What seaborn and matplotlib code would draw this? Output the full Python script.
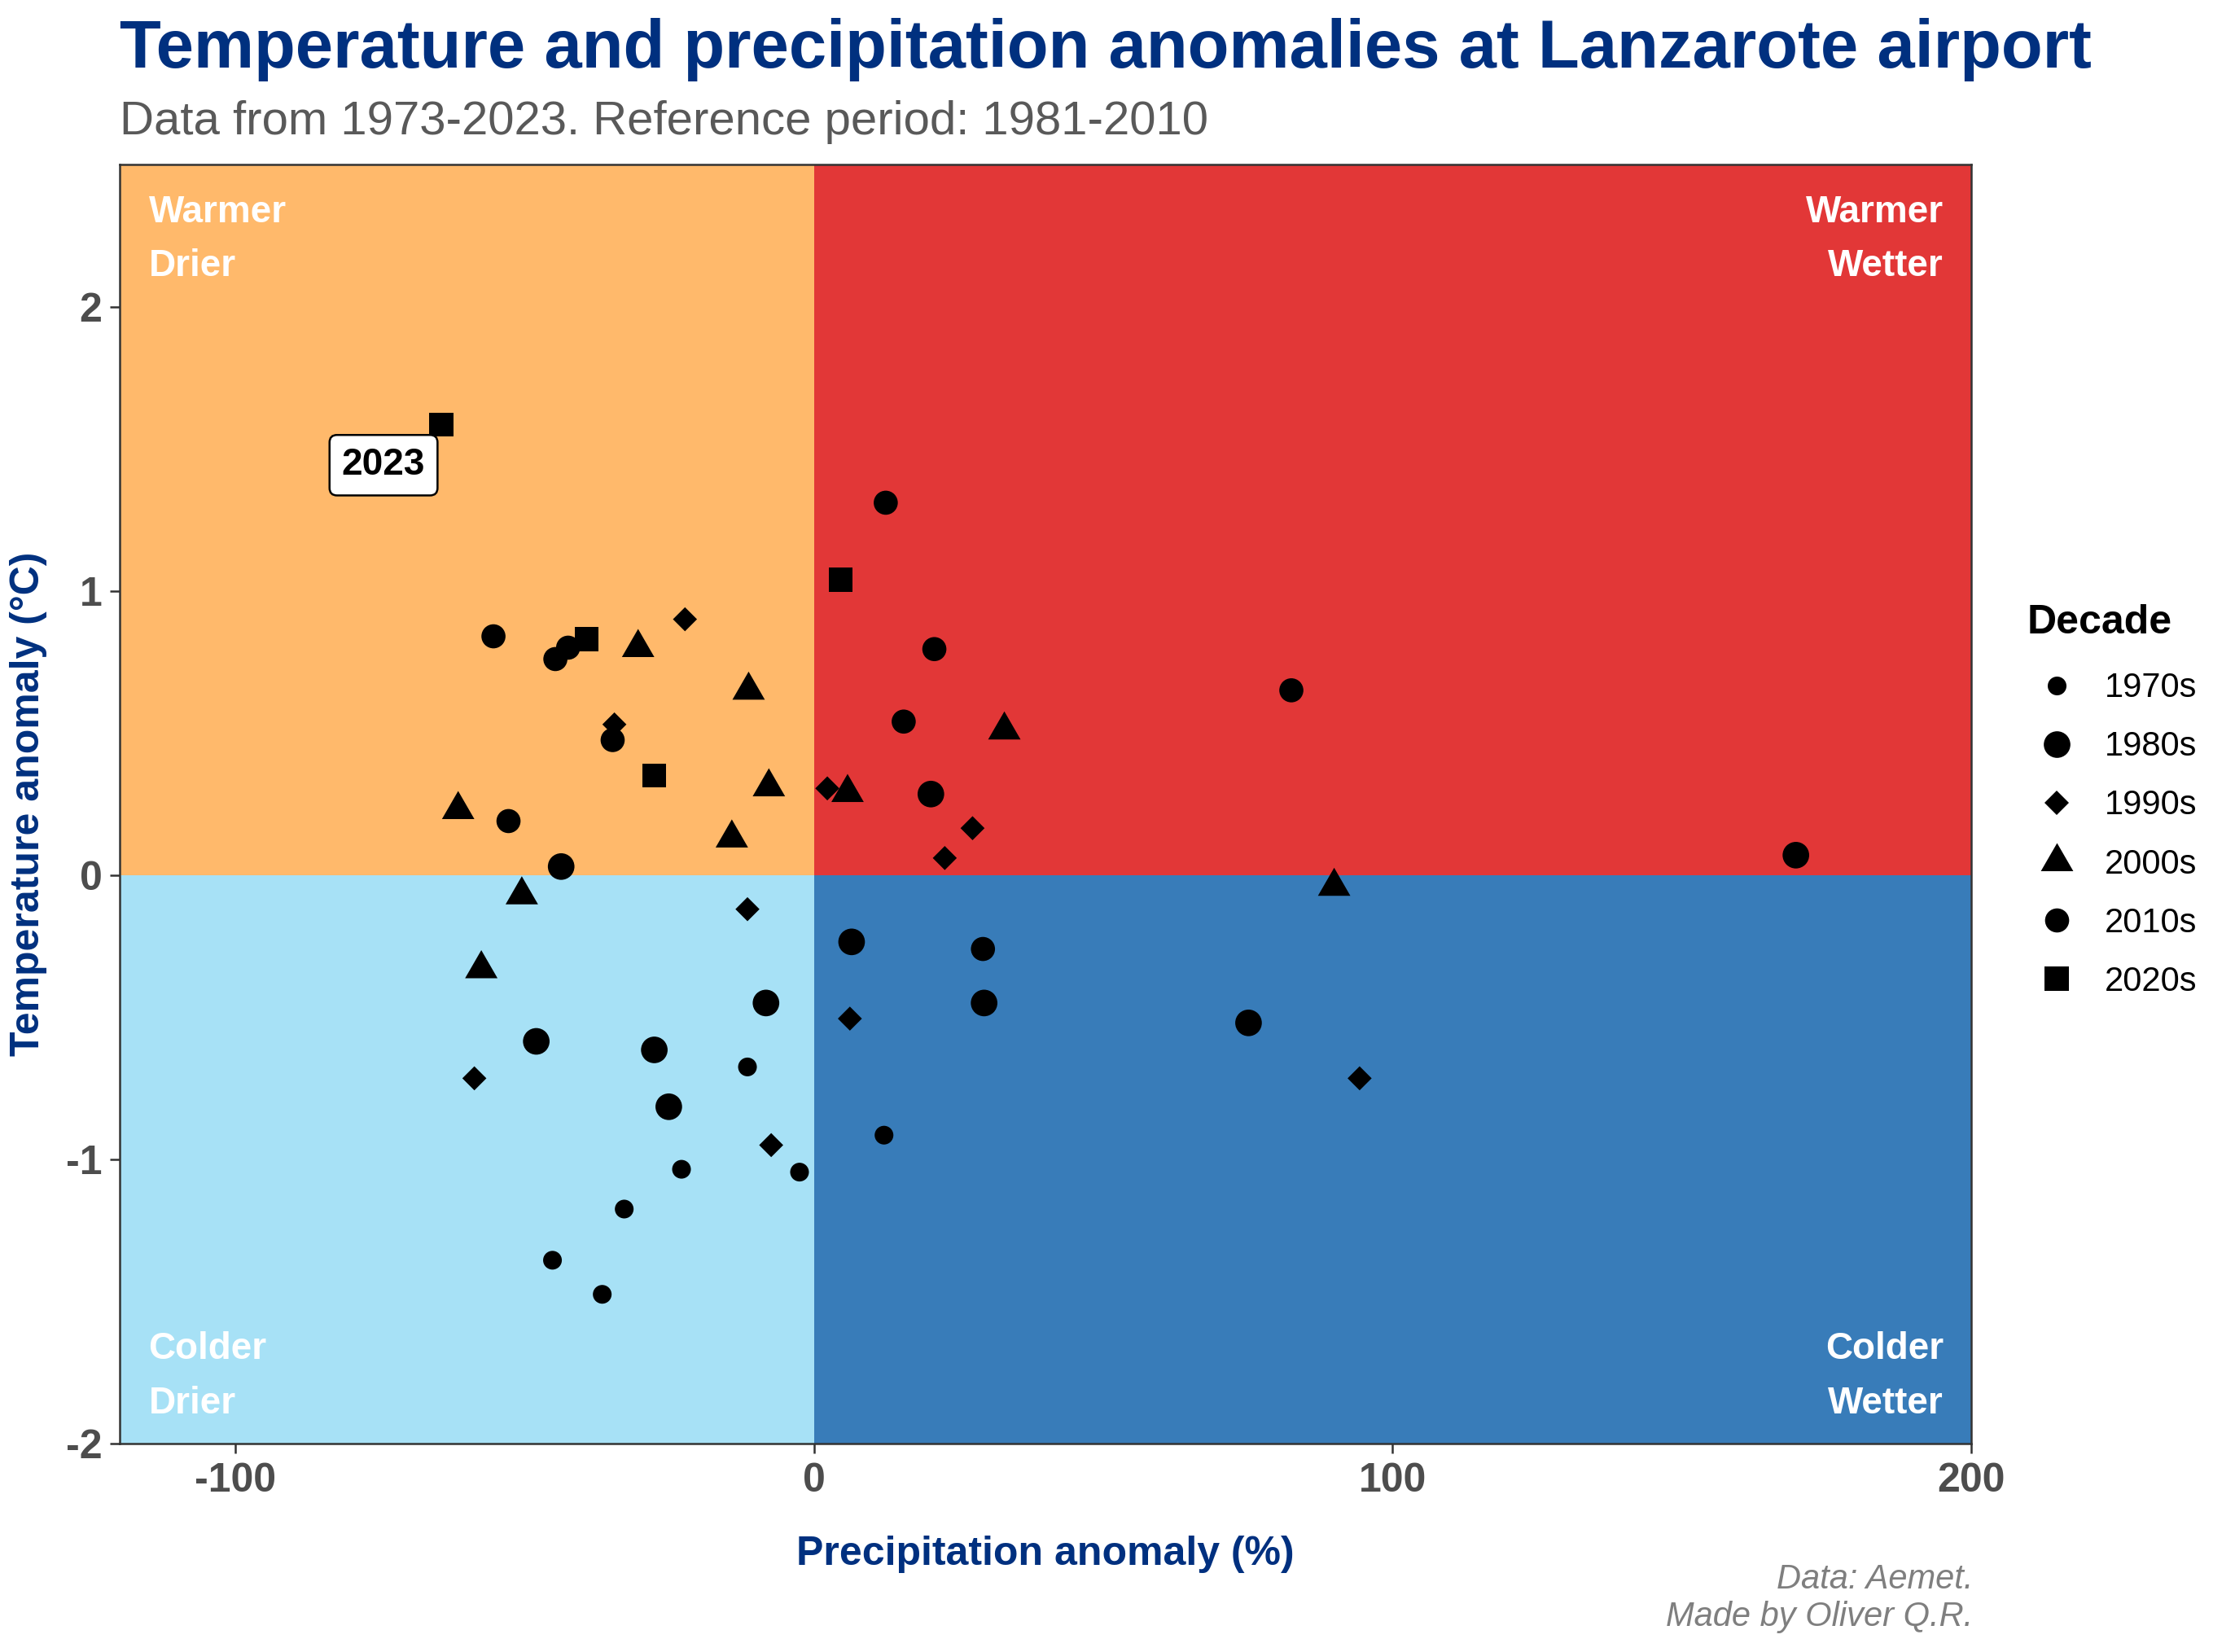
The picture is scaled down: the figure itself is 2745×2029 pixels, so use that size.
import matplotlib
matplotlib.use("Agg")
import matplotlib.pyplot as plt
from matplotlib.path import Path
from matplotlib.patches import Rectangle
import pandas as pd
import seaborn as sns

# ---- data -------------------------------------------------------------
decades = ["1970s", "1980s", "1990s", "2000s", "2010s", "2020s"]
precip_70s = [-11.5, 12.1, -22.9, -2.5, -32.8, -45.2, -36.6]
temp_70s = [-0.675, -0.915, -1.035, -1.045, -1.175, -1.355, -1.475]
precip_80s = [20.2, -43.7, 6.5, 29.4, -8.3, -48.0, -27.6, -25.1, 169.7, 75.1]
temp_80s = [0.285, 0.03, -0.235, -0.45, -0.45, -0.585, -0.615, -0.815, 0.07, -0.52]
precip_90s = [-22.3, -34.5, 2.3, 27.4, 22.6, -11.5, 6.2, -58.7, -7.4, 94.3]
temp_90s = [0.90, 0.53, 0.305, 0.165, 0.06, -0.12, -0.505, -0.715, -0.95, -0.715]
precip_00s = [-30.4, -11.3, 32.9, -7.8, 5.8, -61.5, -14.2, -50.5, -57.5, 89.9]
temp_00s = [0.80, 0.65, 0.51, 0.31, 0.29, 0.23, 0.13, -0.07, -0.33, -0.04]
precip_10s = [12.4, -55.4, -42.5, -44.7, 20.8, 15.5, -34.8, -52.8, 29.2, 82.5]
temp_10s = [1.31, 0.84, 0.80, 0.76, 0.795, 0.54, 0.475, 0.19, -0.26, 0.65]
precip_20s = [-39.3, 4.6, -27.6, -64.4]
temp_20s = [0.83, 1.04, 0.35, 1.585]
x_ticks = [-100, 0, 100, 200]
y_ticks = [-2, -1, 0, 1, 2]

rows = []
for name, xs, ys in zip(
    decades,
    [precip_70s, precip_80s, precip_90s, precip_00s, precip_10s, precip_20s],
    [temp_70s, temp_80s, temp_90s, temp_00s, temp_10s, temp_20s],
):
    rows += [{"Precip": a, "Temp": b, "Decade": name} for a, b in zip(xs, ys)]
df = pd.DataFrame(rows)

# ---- style ------------------------------------------------------------
W, H = 2745, 2029
sns.set_theme(style="white")
plt.rcParams["font.family"] = ["Liberation Sans", "DejaVu Sans"]
plt.rcParams["axes.unicode_minus"] = False
NAVY = "#00307F"
DARK = "#333333"
TICK = "#4D4D4D"

fig = plt.figure(figsize=(W / 300, H / 300), dpi=300, facecolor="white")
L, R, T, B = 147, 2421, 202, 1773
ax = fig.add_axes([L / W, 1 - B / H, (R - L) / W, (B - T) / H])
ax.set_xlim(-120, 200)
ax.set_ylim(-2, 2.5)

for (x0, y0, w, h, c) in [
    (-120, 0, 120, 2.5, "#FFB96B"),
    (0, 0, 200, 2.5, "#E23737"),
    (-120, -2, 120, 2, "#A7E1F6"),
    (0, -2, 200, 2, "#387CB9"),
]:
    ax.add_patch(Rectangle((x0, y0), w, h, facecolor=c, edgecolor="none", zorder=0))

tri = Path([(-0.866, -0.5), (0.866, -0.5), (0, 1), (-0.866, -0.5)], closed=True)
markers = {"1970s": "o", "1980s": "o", "1990s": "D", "2000s": tri, "2010s": "o", "2020s": "s"}
sizes = {"1970s": 30.5, "1980s": 61.5, "1990s": 25.2, "2000s": 122, "2010s": 50.5, "2020s": 50.5}

sns.scatterplot(
    data=df, x="Precip", y="Temp", style="Decade", size="Decade",
    style_order=decades, size_order=decades, hue_order=decades,
    markers=markers, sizes=sizes, color="black", linewidth=0, ax=ax, zorder=3,
)

# ---- axes -------------------------------------------------------------
ax.set_xticks(x_ticks)
ax.set_yticks(y_ticks)
ax.tick_params(axis="both", which="major", bottom=True, left=True, length=2.8, width=0.6,
               color=DARK, labelsize=12, labelcolor=TICK, pad=2.4)
ax.tick_params(axis="x", pad=2.8)
for lab in ax.get_xticklabels() + ax.get_yticklabels():
    lab.set_fontweight("bold")
for s in ax.spines.values():
    s.set_visible(True)
    s.set_color(DARK)
    s.set_linewidth(0.6)
    s.set_zorder(5)
ax.grid(False)

ax.set_xlabel("Precipitation anomaly (%)", color=NAVY, fontweight="bold", fontsize=12, va="center")
ax.xaxis.set_label_coords(0.5, (B - 1909) / (B - T))
ax.set_ylabel("Temperature anomaly (°C)", color=NAVY, fontweight="bold", fontsize=12, va="center")
ax.yaxis.set_label_coords((35 - L) / (R - L), 0.5)

# ---- quadrant labels --------------------------------------------------
qkw = dict(color="white", fontweight="bold", fontsize=11, va="baseline", zorder=4)
ax.text(-115, 2.298, "Warmer", ha="left", **qkw)
ax.text(-115, 2.109, "Drier", ha="left", **qkw)
ax.text(195.2, 2.298, "Warmer", ha="right", **qkw)
ax.text(195.2, 2.109, "Wetter", ha="right", **qkw)
ax.text(-115, -1.703, "Colder", ha="left", **qkw)
ax.text(-115, -1.893, "Drier", ha="left", **qkw)
ax.text(195.2, -1.703, "Colder", ha="right", **qkw)
ax.text(195.2, -1.893, "Wetter", ha="right", **qkw)

ax.text(-74.4, 1.442, "2023", ha="center", va="center", fontsize=11, fontweight="bold",
        color="black", zorder=6,
        bbox=dict(boxstyle="round,pad=0.33,rounding_size=0.2", facecolor="white",
                  edgecolor="black", linewidth=0.6))

# ---- legend -----------------------------------------------------------
handles, labels = ax.get_legend_handles_labels()
pairs = [(h, l) for h, l in zip(handles, labels) if l in decades]
leg = ax.legend(
    [p[0] for p in pairs], [p[1] for p in pairs], title="Decade",
    loc="upper left", bbox_to_anchor=(2490 / W, 1 - 742 / H), bbox_transform=fig.transFigure,
    frameon=False, fontsize=10, labelspacing=0.77, handletextpad=0.55, handlelength=1.73,
    borderpad=0, borderaxespad=0,
    title_fontproperties={"weight": "bold", "size": 12},
)
leg._legend_box.align = "left"
leg._legend_box.sep = leg._legend_box.sep + 1.25
for t in leg.get_texts():
    t.set_color("black")
leg.get_title().set_color("black")

# ---- titles -----------------------------------------------------------
fig.text(147 / W, 1 - 83 / H, "Temperature and precipitation anomalies at Lanzarote airport",
         fontsize=19.97, fontweight="bold", color=NAVY, ha="left", va="baseline")
fig.text(147 / W, 1 - 165 / H, "Data from 1973-2023. Reference period: 1981-2010",
         fontsize=13.95, color="#595959", ha="left", va="baseline")
fig.text(2423 / W, 1 - 1951 / H, "Data: Aemet.", fontsize=10, fontstyle="italic",
         color="#7F7F7F", ha="right", va="baseline")
fig.text(2423 / W, 1 - 1997 / H, "Made by Oliver Q.R.", fontsize=10, fontstyle="italic",
         color="#7F7F7F", ha="right", va="baseline")

fig.savefig("out.png", dpi=300, facecolor="white")
